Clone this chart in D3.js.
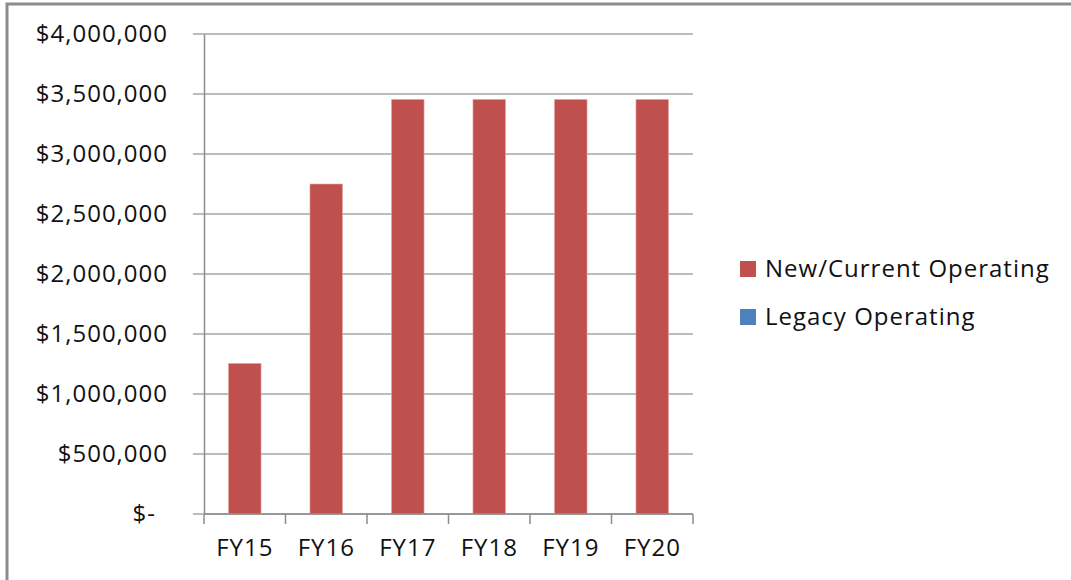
<!DOCTYPE html>
<html>
<head>
<meta charset="utf-8">
<script src="https://cdn.jsdelivr.net/npm/d3@7"></script>
<style>
  body { margin: 0; background: #fff; }
  text { font-family: "Open Sans", "Noto Sans", sans-serif; fill: #111; letter-spacing: 1px; }
</style>
</head>
<body>
<script>
// data
var years = ["FY15", "FY16", "FY17", "FY18", "FY19", "FY20"];
var newCurrent = [1255000, 2750000, 3455000, 3455000, 3455000, 3455000];
var legacy = [0, 0, 0, 0, 0, 0];
var seriesNames = ["New/Current Operating", "Legacy Operating"];
var seriesColors = ["#C0504D", "#4F81BD"];
var yTicks = [0, 500000, 1000000, 1500000, 2000000, 2500000, 3000000, 3500000, 4000000];

// set up dimensions
var width = 1071,
    height = 580;
var margin = {top: 34, left: 204, bottom: 66, right: 378};

var svg = d3.select("body")
            .append("svg")
            .attr("width", width)
            .attr("height", height);

// chart border
svg.append("rect")
    .attr("x", 7)
    .attr("y", 4)
    .attr("width", width + 20)
    .attr("height", height + 20)
    .attr("fill", "#fff")
    .attr("stroke", "#8c8c8c")
    .attr("stroke-width", 3);

var x = d3.scaleBand()
    .domain(years)
    .range([margin.left, width - margin.right])
    .paddingInner(0.6)
    .paddingOuter(0.3);

var y = d3.scaleLinear()
    .domain([0, 4000000])
    .range([height - margin.bottom, margin.top]);

// gridlines
svg.append("g")
    .selectAll("line")
    .data(yTicks)
    .enter()
    .append("line")
    .attr("x1", margin.left - 11)
    .attr("x2", width - margin.right)
    .attr("y1", function(d) { return y(d); })
    .attr("y2", function(d) { return y(d); })
    .attr("stroke", "#a6a6a6")
    .attr("stroke-width", 1.5);

// stacked bars
var table = years.map(function(yr, i) {
  return {year: yr, a: newCurrent[i], b: legacy[i]};
});
var stack = d3.stack().keys(["a", "b"]);
var layers = stack(table);

svg.append("g")
    .selectAll("g")
    .data(layers)
    .enter()
    .append("g")
    .attr("fill", function(d, i) { return seriesColors[i]; })
    .selectAll("rect")
    .data(function(d) { return d; })
    .enter()
    .append("rect")
    .attr("x", function(d) { return x(d.data.year); })
    .attr("y", function(d) { return y(d[1]); })
    .attr("width", x.bandwidth())
    .attr("height", function(d) { return y(d[0]) - y(d[1]); })
    .attr("stroke", "#e8a9a7")
    .attr("stroke-width", 0.6);

// y axis
var fmt = d3.format(",");
var yAxis = svg.append("g")
    .attr("transform", "translate(" + margin.left + ",0)")
    .call(d3.axisLeft(y)
      .tickValues(yTicks)
      .tickSize(0)
      .tickPadding(36)
      .tickFormat(function(d) { return d === 0 ? "$-" : "$" + fmt(d); }));
yAxis.select(".domain").attr("stroke", "#8c8c8c").attr("stroke-width", 1.5);
yAxis.selectAll("text")
    .style("font-size", "24px")
    .attr("dx", function(d) { return d === 0 ? -12 : 0; });

// x axis with ticks on band boundaries
var xBase = height - margin.bottom;
var xAxis = svg.append("g");
xAxis.append("line")
    .attr("x1", margin.left)
    .attr("x2", width - margin.right)
    .attr("y1", xBase)
    .attr("y2", xBase)
    .attr("stroke", "#8c8c8c")
    .attr("stroke-width", 1.5);
var step = x.step();
var bounds = years.map(function(d) { return x(d) - x.paddingInner() * step / 2; });
bounds.push(width - margin.right);
xAxis.selectAll(".tk")
    .data(bounds)
    .enter()
    .append("line")
    .attr("class", "tk")
    .attr("x1", function(d) { return d; })
    .attr("x2", function(d) { return d; })
    .attr("y1", xBase)
    .attr("y2", xBase + 10)
    .attr("stroke", "#8c8c8c")
    .attr("stroke-width", 1.5);
xAxis.selectAll(".lbl")
    .data(years)
    .enter()
    .append("text")
    .attr("class", "lbl")
    .attr("x", function(d) { return x(d) + x.bandwidth() / 2; })
    .attr("y", xBase + 34)
    .attr("dy", "0.35em")
    .attr("text-anchor", "middle")
    .style("font-size", "24px")
    .text(function(d) { return d; });

// legend
var legend = svg.append("g")
    .selectAll("g")
    .data(seriesNames)
    .enter()
    .append("g")
    .attr("transform", function(d, i) { return "translate(740," + (269 + i * 48) + ")"; });
legend.append("rect")
    .attr("x", 0)
    .attr("y", -8)
    .attr("width", 16)
    .attr("height", 16)
    .attr("fill", function(d, i) { return seriesColors[i]; });
legend.append("text")
    .attr("x", 25)
    .attr("dy", "0.35em")
    .style("font-size", "24px")
    .text(function(d) { return d; });
</script>
</body>
</html>
